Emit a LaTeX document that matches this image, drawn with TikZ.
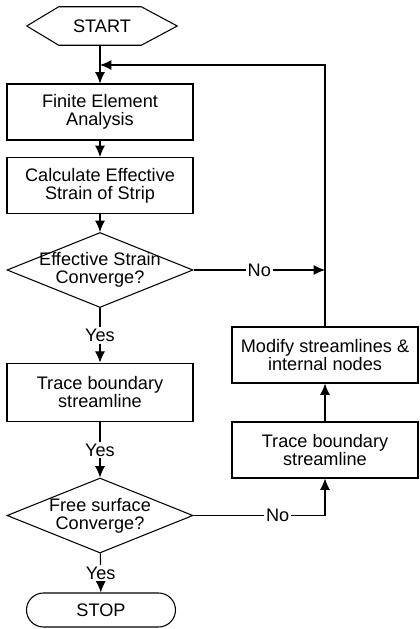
\documentclass[tikz,border=0pt]{standalone}
\usepackage{fontspec}
\setmainfont{Liberation Sans}
\usetikzlibrary{shapes.geometric,shapes.misc,arrows.meta}

\tikzset{
  flowtext/.style={font=\fontsize{13.6}{13.5}\selectfont, align=center},
  procbox/.style={draw, flowtext, line width=0.8pt, minimum width=139.5pt, minimum height=42pt, inner sep=2pt},
  decision/.style={draw, diamond, line width=0.8pt, minimum width=139.5pt, minimum height=56.25pt, inner sep=0pt},
  hexterm/.style={flowtext, minimum width=112.5pt, minimum height=28.5pt, inner sep=0pt},
  roundterm/.style={draw, flowtext, rounded rectangle, line width=0.8pt, minimum width=111.75pt, minimum height=25.5pt, inner sep=0pt},
  flowarrow/.style={-{Latex[length=8.5pt,width=7.5pt]}, line width=0.8pt},
  flowline/.style={line width=0.8pt},
  branchlabel/.style={flowtext, fill=white, inner sep=1.5pt}
}

\begin{document}
\begin{tikzpicture}[x=0.75pt,y=-0.75pt]
\useasboundingbox (0,0) rectangle (419,629);

% main column
\node[hexterm] (start) at (102,26) {START};
\draw[flowline] (start.west) -- ([xshift=24pt]start.north west) -- ([xshift=-27pt]start.north east)
  -- (start.east) -- ([xshift=-27pt]start.south east) -- ([xshift=24pt]start.south west) -- cycle;
\coordinate (merge) at (100,65);
\node[procbox] (fea) at (100,112) {Finite Element\\Analysis};
\node[procbox] (strain) at (100,185.5) {Calculate Effective\\Strain of Strip};
\node[decision, label={[flowtext]center:Effective Strain\\Converge?}] (conv1) at (100,270) {};
\node[procbox, minimum height=44pt] (trace1) at (100,392.5) {Trace boundary\\streamline};
\node[decision, label={[flowtext]center:Free surface\\Converge?}] (conv2) at (100,515.5) {};
\node[roundterm] (stop) at (101,610) {STOP};

% right column
\node[procbox] (modify) at (325,355) {Modify streamlines \&\\internal nodes};
\node[procbox] (trace2) at (325,450) {Trace boundary\\streamline};

% connectors
\draw[flowarrow] (start.south -| fea.north) -- (fea);
\draw[flowarrow] (fea) -- (strain);
\draw[flowarrow] (strain) -- (conv1);
\draw[flowarrow] (conv1) -- node[branchlabel] {Yes} (trace1);
\draw[flowarrow] (trace1) -- node[branchlabel] {Yes} (conv2);
\draw[flowarrow] (conv2) -- node[branchlabel] {Yes} (stop);
\draw[flowarrow] (conv1.east) -- node[branchlabel] {No} (modify.north |- conv1);
\draw[flowarrow] (conv2.east) -| node[branchlabel, pos=0.32] {No} (trace2.south);
\draw[flowarrow] (trace2) -- (modify);
\draw[flowarrow] (modify.north) |- (merge);
\end{tikzpicture}
\end{document}
